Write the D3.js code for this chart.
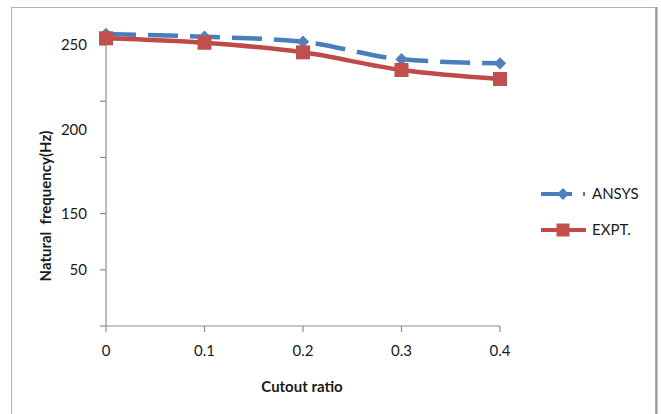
<!DOCTYPE html>
<html>
<head>
<meta charset="utf-8">
<script src="https://cdn.jsdelivr.net/npm/d3@7"></script>
<style>
  html, body { margin: 0; padding: 0; background: #fff; }
  svg { display: block; }
  text { font-family: Lato, "Open Sans", sans-serif; fill: #1a1a1a; }
</style>
</head>
<body>
<svg id="chart" width="661" height="414"></svg>
<script>
// Cutout ratio on the x axis
const categories = [0, 0.1, 0.2, 0.3, 0.4];
const categoryLabels = ["0", "0.1", "0.2", "0.3", "0.4"];

// Natural frequency (Hz) per series
const ansysValues = [259.8, 257.4, 252.9, 237.3, 233.7];
const exptValues  = [256.0, 252.0, 243.5, 227.8, 219.8];

// Y axis tick marks and the labels printed beside them
const yTickValues = [0, 50, 100, 150, 200, 250];
const yLabelTexts = ["50", "150", "200", "250"];
const yLabelValues = [50, 100, 175, 250];

const seriesNames = ["ANSYS", "EXPT."];

const svg = d3.select("#chart");
const W = 661, H = 414;

// Chart frame
svg.append("rect")
  .attr("x", 11.5).attr("y", 7.5)
  .attr("width", 644).attr("height", H + 10)
  .attr("fill", "#fff").attr("stroke", "#b4b4b4").attr("stroke-width", 1);
svg.append("line")
  .attr("x1", 656.5).attr("x2", 656.5).attr("y1", 7).attr("y2", H)
  .attr("stroke", "#9a9a9a").attr("stroke-width", 2);

const x = d3.scalePoint().domain(categories).range([106, 500]);
const y = d3.scaleLinear().domain([0, 260]).range([326, 33.8]);

const axisColor = "#8c8c8c";

// Y axis
const yAxis = svg.append("g").attr("transform", "translate(106,0)");
yAxis.append("line")
  .attr("x1", 0).attr("x2", 0).attr("y1", y(0)).attr("y2", y(260))
  .attr("stroke", axisColor).attr("stroke-width", 1.2);
yAxis.selectAll("line.tick").data(yTickValues).join("line")
  .attr("class", "tick")
  .attr("x1", -6).attr("x2", 0)
  .attr("y1", d => y(d)).attr("y2", d => y(d))
  .attr("stroke", axisColor).attr("stroke-width", 1.2);
svg.append("g").selectAll("text").data(yLabelTexts).join("text")
  .attr("x", 87)
  .attr("y", (d, i) => y(yLabelValues[i]))
  .attr("dy", "0.36em")
  .attr("text-anchor", "end")
  .attr("font-size", 15)
  .text(d => d);

// X axis
const xAxis = svg.append("g").attr("transform", `translate(0,${y(0)})`);
xAxis.append("line")
  .attr("x1", 106).attr("x2", 500).attr("y1", 0).attr("y2", 0)
  .attr("stroke", axisColor).attr("stroke-width", 1.2);
xAxis.selectAll("line.tick").data(categories).join("line")
  .attr("class", "tick")
  .attr("x1", d => x(d)).attr("x2", d => x(d))
  .attr("y1", 0).attr("y2", 6)
  .attr("stroke", axisColor).attr("stroke-width", 1.2);
xAxis.selectAll("text").data(categories).join("text")
  .attr("x", d => x(d))
  .attr("y", 25)
  .attr("dy", "0.36em")
  .attr("text-anchor", "middle")
  .attr("font-size", 15)
  .text((d, i) => categoryLabels[i]);

// Axis titles
svg.append("text")
  .attr("x", 302).attr("y", 387)
  .attr("dy", "0.36em")
  .attr("text-anchor", "middle")
  .attr("font-size", 15).attr("font-weight", "bold")
  .text("Cutout ratio");
svg.append("text")
  .attr("transform", "translate(46,206) rotate(-90)")
  .attr("dy", "0.36em")
  .attr("text-anchor", "middle")
  .attr("font-size", 15).attr("font-weight", "bold")
  .attr("xml:space", "preserve")
  .style("white-space", "pre")
  .text("Natural  frequency(Hz)");

const blue = "#4a7ebb", blueFill = "#4f81bd";
const red = "#be4b48", redFill = "#c0504d";

const line = d3.line()
  .x((d, i) => x(categories[i]))
  .y(d => y(d))
  .curve(d3.curveMonotoneX);

const diamond = d3.symbol().type(d3.symbolDiamond2).size(98);
const square = d3.symbol().type(d3.symbolSquare).size(196);

// ANSYS series (dashed)
svg.append("path")
  .datum(ansysValues)
  .attr("d", line)
  .attr("fill", "none")
  .attr("stroke", blue).attr("stroke-width", 4.5)
  .attr("stroke-dasharray", "30,12");
svg.append("g").selectAll("path").data(ansysValues).join("path")
  .attr("transform", (d, i) => `translate(${x(categories[i])},${y(d)})`)
  .attr("d", diamond)
  .attr("fill", blueFill);

// EXPT. series (solid)
svg.append("path")
  .datum(exptValues)
  .attr("d", line)
  .attr("fill", "none")
  .attr("stroke", red).attr("stroke-width", 4.5);
svg.append("g").selectAll("path").data(exptValues).join("path")
  .attr("transform", (d, i) => `translate(${x(categories[i])},${y(d)})`)
  .attr("d", square)
  .attr("fill", redFill);

// Legend
const legend = svg.append("g");
const legendRows = [
  { name: seriesNames[0], y: 194, stroke: blue, fill: blueFill, sym: diamond, x2: 572 },
  { name: seriesNames[1], y: 230, stroke: red, fill: redFill, sym: square, x2: 586 }
];
legendRows.forEach(r => {
  legend.append("line")
    .attr("x1", 541).attr("x2", r.x2).attr("y1", r.y).attr("y2", r.y)
    .attr("stroke", r.stroke).attr("stroke-width", 4);
  legend.append("path")
    .attr("transform", `translate(563,${r.y})`)
    .attr("d", r.sym === diamond ? d3.symbol().type(d3.symbolDiamond2).size(90)() : d3.symbol().type(d3.symbolSquare).size(169)())
    .attr("fill", r.fill);
  legend.append("text")
    .attr("x", 592).attr("y", r.y)
    .attr("dy", "0.36em")
    .attr("font-size", 15)
    .text(r.name);
});
legend.append("rect")
  .attr("x", 583).attr("y", 192).attr("width", 2).attr("height", 4)
  .attr("fill", blue);
</script>
</body>
</html>
